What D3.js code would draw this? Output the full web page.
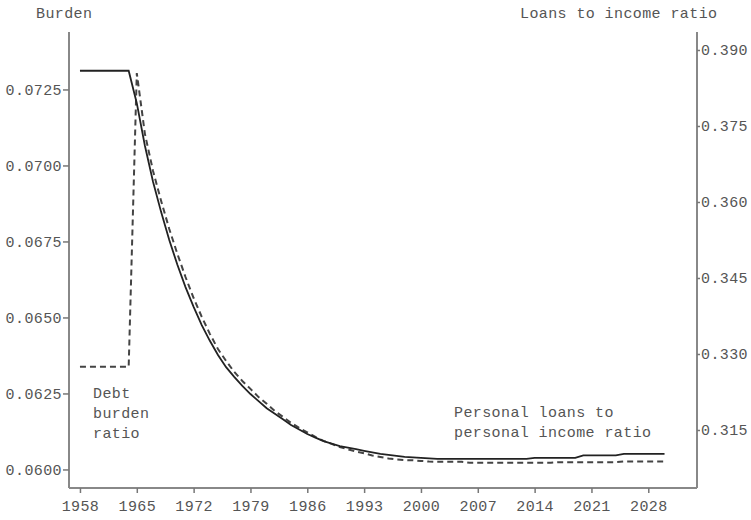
<!DOCTYPE html>
<html>
<head>
<meta charset="utf-8">
<script src="https://cdn.jsdelivr.net/npm/d3@7"></script>
<style>
  body { margin: 0; background: #fff; }
  text { font-family: "Liberation Mono", "DejaVu Sans Mono", monospace; font-size: 15px; fill: #555; letter-spacing: 0.4px; }
</style>
</head>
<body>
<div id="chart"></div>
<script>
// years on the x axis
var years = d3.range(1958, 2031);

// personal loans to personal income ratio (right axis)
var loansRatio = [
    0.3859, 0.3859, 0.3859, 0.3859, 0.3859, 0.3859, 0.3859,
    0.3795, 0.3711, 0.3640, 0.3580, 0.3525, 0.3476, 0.3432, 0.3393, 0.3357, 0.3326,
    0.3298, 0.3274, 0.3255, 0.3237, 0.3221, 0.3207, 0.3193, 0.3182, 0.3171, 0.3160,
    0.3151, 0.3142, 0.3135, 0.3128, 0.3123, 0.3118, 0.3115, 0.3112, 0.3109, 0.3106,
    0.3103, 0.3101, 0.3099, 0.3097, 0.3096, 0.3095, 0.3094,
    0.3093, 0.3093, 0.3093, 0.3093, 0.3093, 0.3093, 0.3093, 0.3093, 0.3093, 0.3093, 0.3093, 0.3093,
    0.3095, 0.3095, 0.3095, 0.3095, 0.3095, 0.3095,
    0.3100, 0.3100, 0.3100, 0.3100, 0.3100,
    0.3103, 0.3103, 0.3103, 0.3103, 0.3103, 0.3103
];

// debt burden ratio (left axis)
var burden = [
    0.06338, 0.06338, 0.06338, 0.06338, 0.06338, 0.06338, 0.06338,
    0.07304, 0.07104, 0.06982, 0.06883, 0.06791, 0.06709, 0.06633, 0.06564, 0.06502, 0.06446,
    0.06396, 0.06357, 0.06321, 0.06291, 0.06265, 0.06238, 0.06216, 0.06192, 0.06173, 0.06153,
    0.06137, 0.06122, 0.06107, 0.06094, 0.06084, 0.06074, 0.06066, 0.06059, 0.06053, 0.06046,
    0.06041, 0.06036, 0.06033, 0.06031, 0.06030, 0.06028, 0.06026,
    0.06025, 0.06025, 0.06025, 0.06025,
    0.06022, 0.06022, 0.06022, 0.06022, 0.06022, 0.06022, 0.06022, 0.06022, 0.06022, 0.06022, 0.06022,
    0.06024, 0.06024, 0.06024, 0.06024, 0.06024, 0.06024, 0.06024, 0.06024,
    0.06026, 0.06026, 0.06026, 0.06026, 0.06026, 0.06026
];

// tick labels
var yearTicks = [1958, 1965, 1972, 1979, 1986, 1993, 2000, 2007, 2014, 2021, 2028];
var burdenTicks = [0.0600, 0.0625, 0.0650, 0.0675, 0.0700, 0.0725];
var ratioTicks = [0.315, 0.330, 0.345, 0.360, 0.375, 0.390];

function setup() {

    var margin = {top: 32, right: 54, bottom: 32, left: 69},
        width = 751 - margin.left - margin.right,
        height = 520 - margin.top - margin.bottom;

    var x = d3.scaleLinear().domain([1956.65, 2034]).range([0, width]);
    var yLeft = d3.scaleLinear().domain([0.05939, 0.07439]).range([height, 0]);
    var yRight = d3.scaleLinear().domain([0.30355, 0.39355]).range([height, 0]);

    var svg = d3.select("#chart").append("svg")
        .attr("width", 751)
        .attr("height", 520)
      .append("g")
        .attr("transform", "translate(" + margin.left + "," + margin.top + ")");

    // axes
    var xAxis = svg.append("g")
        .attr("transform", "translate(0," + height + ")")
        .call(d3.axisBottom(x).tickValues(yearTicks).tickFormat(d3.format("d")).tickSize(5).tickPadding(7));

    var leftAxis = svg.append("g")
        .call(d3.axisLeft(yLeft).tickValues(burdenTicks).tickFormat(d3.format(".4f")).tickSize(6).tickPadding(1));

    var rightAxis = svg.append("g")
        .attr("transform", "translate(" + width + ",0)")
        .call(d3.axisRight(yRight).tickValues(ratioTicks).tickFormat(d3.format(".3f")).tickSize(3).tickPadding(1));

    [xAxis, leftAxis, rightAxis].forEach(function(a) {
        a.select(".domain").attr("stroke", "#888").attr("stroke-width", 2);
        a.selectAll(".tick line").attr("stroke", "#777").attr("stroke-width", 1.5);
        a.selectAll("text").attr("fill", "#555").style("font-size", "15px").attr("font-family", null);
    });

    // plain domain lines without end caps
    xAxis.select(".domain").attr("d", "M0,0H" + width);
    leftAxis.select(".domain").attr("d", "M0,0V" + height);
    rightAxis.select(".domain").attr("d", "M0,0V" + height);

    // lines
    var loansLine = d3.line()
        .x(function(d, i) { return x(years[i]); })
        .y(function(d) { return yRight(d); });

    var burdenLine = d3.line()
        .x(function(d, i) { return x(years[i]); })
        .y(function(d) { return yLeft(d); });

    svg.append("path")
        .datum(burden)
        .attr("fill", "none")
        .attr("stroke", "#444")
        .attr("stroke-width", 2)
        .attr("stroke-dasharray", "6,4")
        .attr("d", burdenLine);

    svg.append("path")
        .datum(loansRatio)
        .attr("fill", "none")
        .attr("stroke", "#222")
        .attr("stroke-width", 1.8)
        .attr("d", loansLine);

    // axis titles
    var root = d3.select("#chart svg");
    root.append("text").attr("x", 36).attr("y", 13).attr("dy", "0.35em").text("Burden");
    root.append("text").attr("x", 520).attr("y", 13).attr("dy", "0.35em").text("Loans to income ratio");

    // series labels
    var debtLabel = ["Debt", "burden", "ratio"];
    debtLabel.forEach(function(t, i) {
        root.append("text").attr("x", 93).attr("y", 393 + i * 20).attr("dy", "0.35em").text(t);
    });
    var loansLabel = ["Personal loans to", "personal income ratio"];
    loansLabel.forEach(function(t, i) {
        root.append("text").attr("x", 454).attr("y", 412 + i * 20).attr("dy", "0.35em").text(t);
    });
}

setup();
</script>
</body>
</html>
